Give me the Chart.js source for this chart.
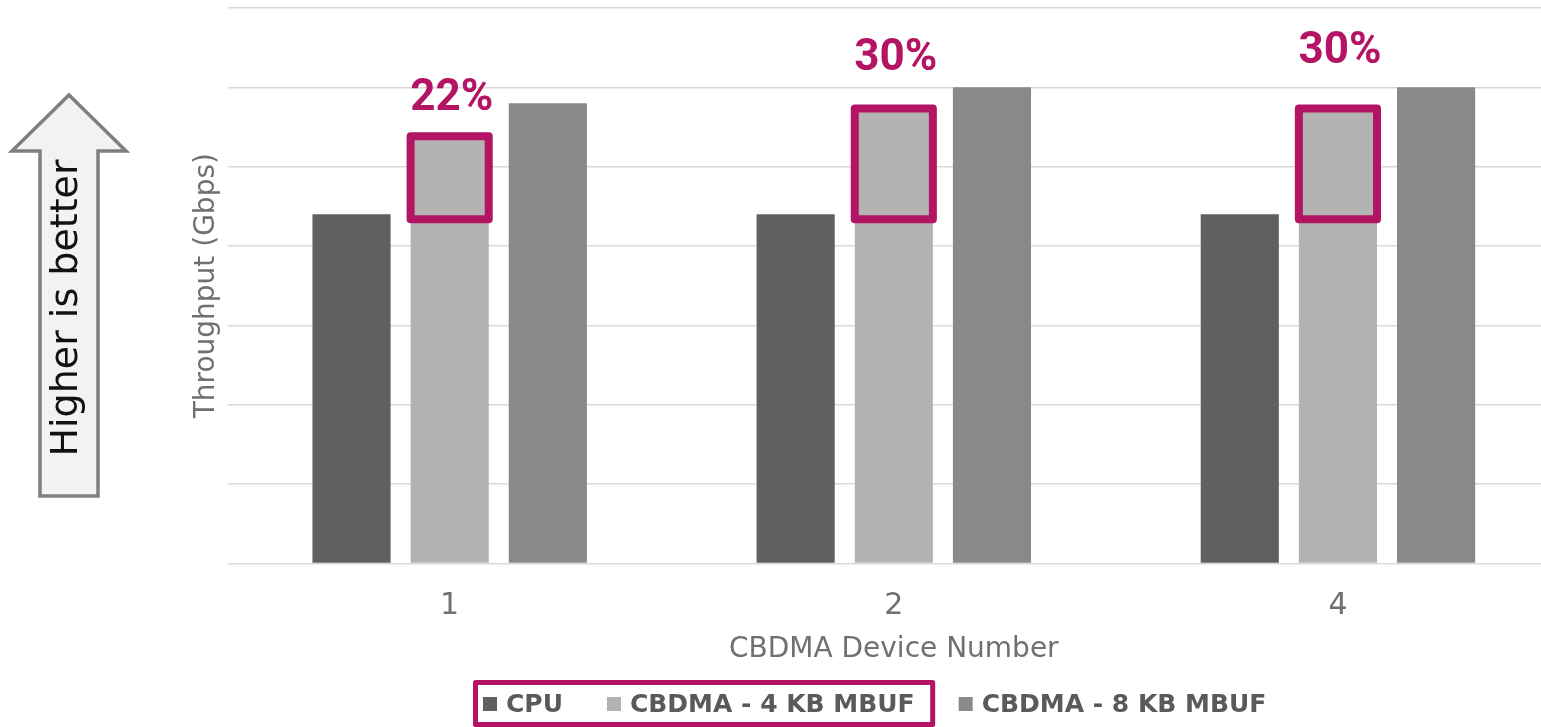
<!DOCTYPE html>
<html>
<head>
<meta charset="utf-8">
<script src="https://cdn.jsdelivr.net/npm/chart.js@4.4.1/dist/chart.umd.min.js"></script>
<style>
  html, body { margin: 0; padding: 0; overflow: hidden; background: #ffffff; }
  #wrap { position: relative; width: 1560px; height: 727px; }
</style>
</head>
<body>
<div id="wrap"><canvas id="c" width="1560" height="727"></canvas></div>
<script>
// Throughput per CBDMA device count
const categories = ['1', '2', '4'];
const cpuValues = [4.40, 4.40, 4.40];
const mbuf4kValues = [5.37, 5.72, 5.72];
const mbuf8kValues = [5.80, 6.00, 6.00];
const seriesNames = ['CPU', 'CBDMA - 4 KB MBUF', 'CBDMA - 8 KB MBUF'];
const yTickValues = [0, 1, 2, 3, 4, 5, 6, 7];

const seriesColors = ['#606060', '#b3b3b3', '#898989'];
const accent = '#b31463';
const textGray = '#707070';

// "Higher is better" arrow on the left margin
const arrowPlugin = {
  id: 'arrowNote',
  beforeDraw(chart) {
    const ctx = chart.ctx;
    ctx.save();
    ctx.beginPath();
    ctx.moveTo(69, 95);
    ctx.lineTo(126, 151);
    ctx.lineTo(98, 151);
    ctx.lineTo(98, 496);
    ctx.lineTo(40, 496);
    ctx.lineTo(40, 151);
    ctx.lineTo(12, 151);
    ctx.closePath();
    ctx.fillStyle = '#f2f2f2';
    ctx.fill();
    ctx.lineWidth = 3.5;
    ctx.strokeStyle = '#7f7f7f';
    ctx.lineJoin = 'miter';
    ctx.stroke();
    ctx.translate(67, 308);
    ctx.rotate(-Math.PI / 2);
    ctx.fillStyle = '#111111';
    ctx.font = '38px "DejaVu Sans"';
    ctx.textAlign = 'center';
    ctx.textBaseline = 'middle';
    ctx.fillText('Higher is better', 0, 0);
    ctx.restore();
  }
};

// Highlight the gain of the 4 KB series over CPU, with its percentage above
const gainLift = [33, 46, 53];
const gainPlugin = {
  id: 'gainBoxes',
  afterDatasetsDraw(chart) {
    const ctx = chart.ctx;
    const y = chart.scales.y;
    const meta = chart.getDatasetMeta(1);
    ctx.save();
    meta.data.forEach((bar, i) => {
      const half = bar.width / 2;
      const top = y.getPixelForValue(mbuf4kValues[i]) - 1;
      const bottom = y.getPixelForValue(cpuValues[i]) + 5;
      ctx.lineWidth = 8;
      ctx.lineJoin = 'round';
      ctx.strokeStyle = accent;
      ctx.strokeRect(bar.x - half, top, half * 2, bottom - top);
      const pct = Math.round((mbuf4kValues[i] / cpuValues[i] - 1) * 100) + '%';
      ctx.fillStyle = accent;
      ctx.font = 'bold 44px Roboto';
      ctx.textAlign = 'center';
      ctx.textBaseline = 'middle';
      ctx.fillText(pct, bar.x + 2, top - 4 - gainLift[i]);
    });
    ctx.restore();
  }
};

// Legend row along the bottom edge
const legendPlugin = {
  id: 'bottomLegend',
  afterDraw(chart) {
    const ctx = chart.ctx;
    ctx.save();
    ctx.font = 'bold 25px "DejaVu Sans"';
    ctx.textBaseline = 'middle';
    const box = 14, gap = 9, spacing = 44;
    const widths = seriesNames.map(n => box + gap + ctx.measureText(n).width);
    const cy = 704;
    let x = 483;
    const starts = [];
    seriesNames.forEach((name, i) => {
      starts.push(x);
      ctx.fillStyle = seriesColors[i];
      ctx.fillRect(x, cy - 7, box, box);
      ctx.fillStyle = '#5a5a5a';
      ctx.fillText(name, x + box + gap, cy + 1);
      x += widths[i] + spacing;
    });
    // frame around the CPU and 4 KB entries
    ctx.strokeStyle = accent;
    ctx.lineWidth = 5;
    ctx.lineJoin = 'round';
    const left = starts[0] - 7.5;
    const right = starts[1] + widths[1] + 18;
    ctx.strokeRect(left, 682.5, right - left, 42);
    ctx.restore();
  }
};

new Chart(document.getElementById('c'), {
  type: 'bar',
  data: {
    labels: categories,
    datasets: [
      { label: seriesNames[0], data: cpuValues, backgroundColor: seriesColors[0] },
      { label: seriesNames[1], data: mbuf4kValues, backgroundColor: seriesColors[1] },
      { label: seriesNames[2], data: mbuf8kValues, backgroundColor: seriesColors[2] }
    ]
  },
  options: {
    responsive: false,
    animation: false,
    layout: { padding: { left: 186, top: 8, right: 0, bottom: 56 } },
    datasets: { bar: { barPercentage: 0.796, categoryPercentage: 0.663 } },
    plugins: { legend: { display: false }, tooltip: { enabled: false } },
    scales: {
      x: {
        grid: { display: false, drawTicks: false },
        border: { display: false },
        ticks: { color: textGray, padding: 25, font: { family: 'DejaVu Sans', size: 30 } },
        title: {
          display: true, text: 'CBDMA Device Number', color: textGray,
          font: { family: 'DejaVu Sans', size: 28 }, padding: { top: -16, bottom: 4 }
        }
      },
      y: {
        min: 0, max: 7,
        afterBuildTicks(scale) { scale.ticks = yTickValues.map(v => ({ value: v })); },
        grid: { color: '#d9d9d9', lineWidth: 1.5, drawTicks: false },
        border: { display: false },
        ticks: { display: false },
        title: {
          display: true, text: 'Throughput (Gbps)', color: textGray,
          font: { family: 'DejaVu Sans', size: 28 }, padding: { top: 4, bottom: 4 }
        }
      }
    }
  },
  plugins: [arrowPlugin, gainPlugin, legendPlugin]
});
</script>
</body>
</html>
